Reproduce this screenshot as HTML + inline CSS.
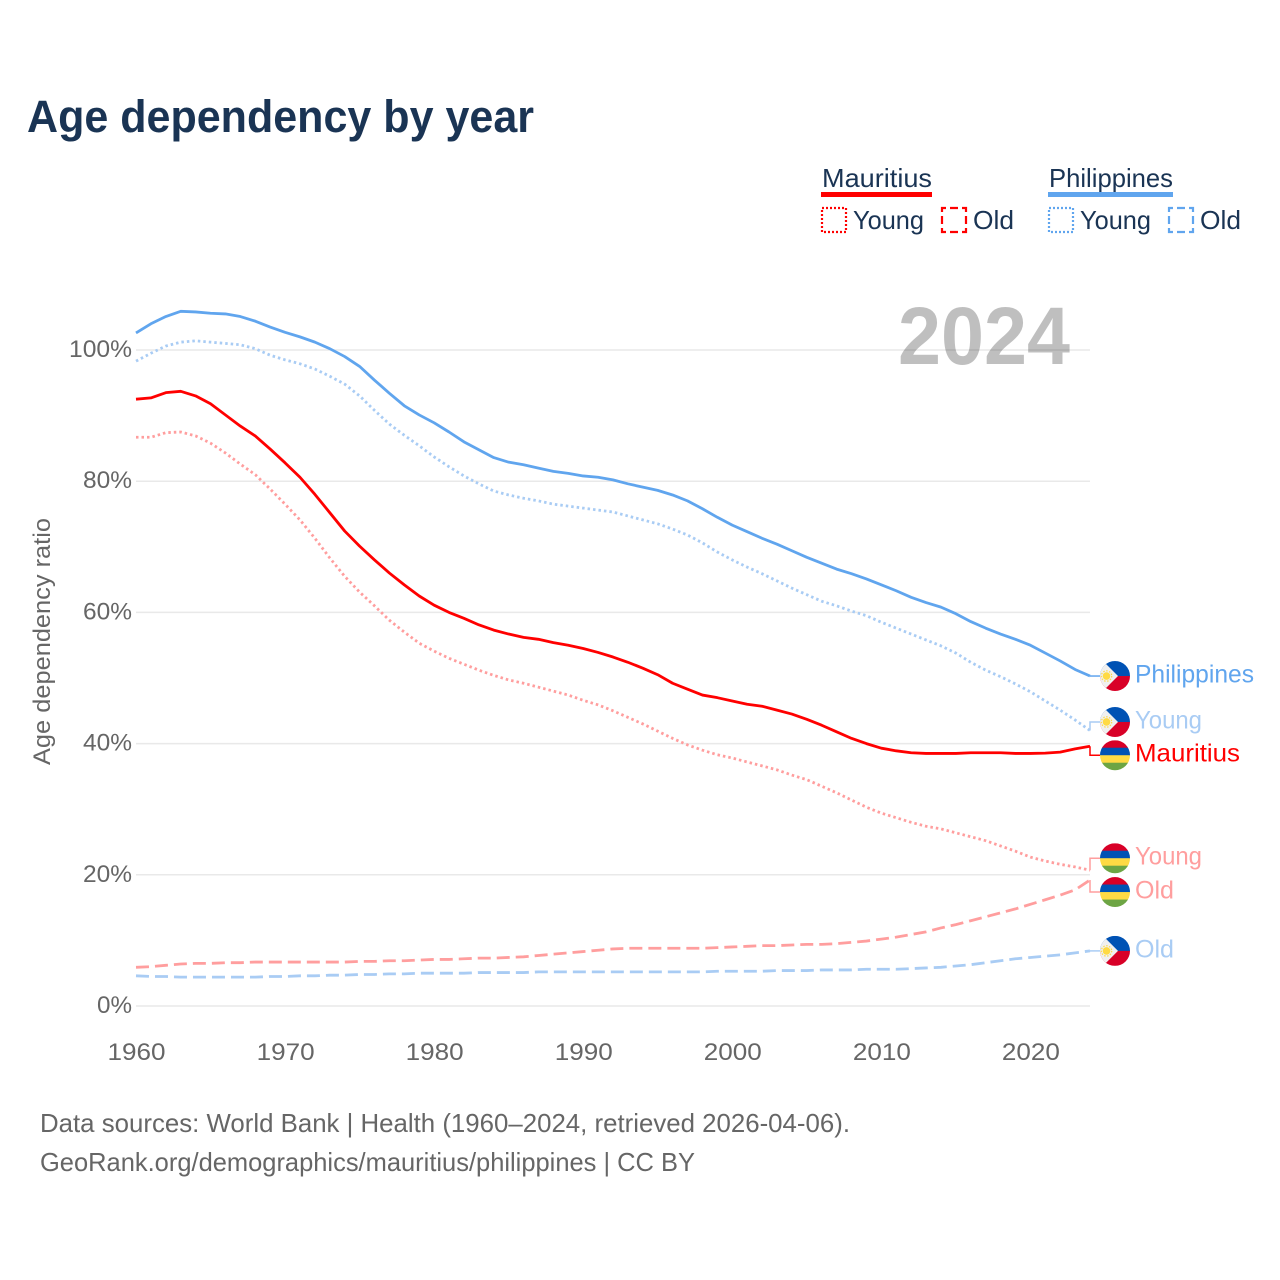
<!DOCTYPE html>
<html lang="en">
<head>
<meta charset="utf-8">
<title>Age dependency by year</title>
<style>
html,body{margin:0;padding:0;background:#fff;width:1280px;height:1280px;overflow:hidden}
svg{display:block}
text{font-family:"Liberation Sans",sans-serif}
</style>
</head>
<body>
<svg id="chart" xmlns="http://www.w3.org/2000/svg" width="1280" height="1280" viewBox="0 0 1280 1280">
<defs>
<clipPath id="flag-clip"><circle cx="0" cy="0" r="15"/></clipPath>
<g id="flag-ph" clip-path="url(#flag-clip)">
<rect x="-15" y="-15" width="30" height="15.300" fill="#0052b4"/>
<rect x="-15" y="0" width="30" height="15" fill="#d80027"/>
<polygon points="-15,-15 -12,-15 3,0 -12,15 -15,15" fill="#f0f0f0"/>
<circle cx="-8.500" cy="0" r="3.800" fill="#ffda44"/>
<circle cx="-8.500" cy="0" r="5.200" fill="none" stroke="#ffda44" stroke-width="1.200" stroke-dasharray="1.500 1.500"/>
</g>
<g id="flag-mu" clip-path="url(#flag-clip)">
<rect x="-15" y="-15" width="30" height="8" fill="#d80027"/>
<rect x="-15" y="-7.500" width="30" height="8" fill="#0052b4"/>
<rect x="-15" y="0" width="30" height="8" fill="#ffda44"/>
<rect x="-15" y="7.500" width="30" height="8" fill="#6da544"/>
</g>
</defs>

<text x="27" y="132" font-size="45" font-weight="700" fill="#1a3454" textLength="507" lengthAdjust="spacingAndGlyphs">Age dependency by year</text>

<g font-size="26" fill="#1a3454">
<text x="822" y="187" textLength="110" lengthAdjust="spacingAndGlyphs">Mauritius</text>
<rect x="821" y="192" width="111" height="5" fill="#ff0000"/>
<rect x="822" y="208" width="24" height="24" fill="none" stroke="#ff0000" stroke-width="2.200" stroke-dasharray="2 2"/>
<text x="853" y="229" textLength="71" lengthAdjust="spacingAndGlyphs">Young</text>
<rect x="942" y="208" width="24" height="24" fill="none" stroke="#ff0000" stroke-width="2.200" stroke-dasharray="8 4" stroke-dashoffset="4"/>
<text x="973" y="229" textLength="41" lengthAdjust="spacingAndGlyphs">Old</text>
<text x="1049" y="187" textLength="124" lengthAdjust="spacingAndGlyphs">Philippines</text>
<rect x="1048" y="192" width="125" height="5" fill="#60a5ee"/>
<rect x="1049" y="208" width="24" height="24" fill="none" stroke="#60a5ee" stroke-width="2.200" stroke-dasharray="2 2"/>
<text x="1080" y="229" textLength="71" lengthAdjust="spacingAndGlyphs">Young</text>
<rect x="1169" y="208" width="24" height="24" fill="none" stroke="#60a5ee" stroke-width="2.200" stroke-dasharray="8 4" stroke-dashoffset="4"/>
<text x="1200" y="229" textLength="41" lengthAdjust="spacingAndGlyphs">Old</text>
</g>

<g id="grid"></g>
<text x="898" y="364" font-size="82" font-weight="700" fill="#000" fill-opacity="0.25" textLength="172" lengthAdjust="spacingAndGlyphs">2024</text>
<g id="y-ticks"></g>
<g id="x-ticks"></g>
<text transform="translate(50,765) rotate(-90)" font-size="24" fill="#666" textLength="247" lengthAdjust="spacingAndGlyphs">Age dependency ratio</text>
<g id="series"></g>
<g id="end-labels"></g>

<g font-size="26" fill="#666">
<text x="40" y="1132" textLength="810" lengthAdjust="spacingAndGlyphs">Data sources: World Bank | Health (1960–2024, retrieved 2026-04-06).</text>
<text x="40" y="1171" textLength="655" lengthAdjust="spacingAndGlyphs">GeoRank.org/demographics/mauritius/philippines | CC BY</text>
</g>
</svg>
<script>
const years = [
1960,1961,1962,1963,1964,1965,1966,1967,1968,1969,
1970,1971,1972,1973,1974,1975,1976,1977,1978,1979,
1980,1981,1982,1983,1984,1985,1986,1987,1988,1989,
1990,1991,1992,1993,1994,1995,1996,1997,1998,1999,
2000,2001,2002,2003,2004,2005,2006,2007,2008,2009,
2010,2011,2012,2013,2014,2015,2016,2017,2018,2019,
2020,2021,2022,2023,2024];
const philippinesTotal = [
102.6,104,105.1,105.9,105.8,105.6,105.5,105.1,104.4,103.5,
102.7,102,101.2,100.2,99,97.5,95.4,93.4,91.5,90.1,
88.9,87.5,86,84.8,83.6,82.9,82.5,82,81.5,81.2,
80.8,80.6,80.2,79.6,79.1,78.6,77.9,77,75.8,74.5,
73.3,72.3,71.3,70.4,69.4,68.4,67.5,66.6,65.9,65.1,
64.2,63.3,62.3,61.5,60.8,59.8,58.6,57.6,56.7,55.9,
55,53.8,52.6,51.3,50.3];
const philippinesYoung = [
98.3,99.5,100.6,101.2,101.4,101.2,101,100.8,100.2,99.2,
98.5,97.9,97.1,96,94.8,93,90.8,88.7,87,85.4,
83.7,82.2,80.8,79.6,78.5,77.9,77.4,77,76.5,76.2,
75.9,75.6,75.3,74.7,74.1,73.5,72.7,71.8,70.6,69.2,
68,66.9,65.9,64.8,63.7,62.7,61.7,61,60.2,59.5,
58.5,57.6,56.7,55.8,54.9,53.8,52.4,51.2,50.2,49.1,
47.9,46.5,45.1,43.6,42];
const philippinesOld = [
4.6,4.5,4.5,4.4,4.4,4.4,4.4,4.4,4.4,4.5,
4.5,4.6,4.6,4.7,4.7,4.8,4.8,4.9,4.9,5.0,
5.0,5.0,5.0,5.1,5.1,5.1,5.1,5.2,5.2,5.2,
5.2,5.2,5.2,5.2,5.2,5.2,5.2,5.2,5.2,5.3,
5.3,5.3,5.3,5.4,5.4,5.4,5.5,5.5,5.5,5.6,
5.6,5.6,5.7,5.8,5.9,6.1,6.3,6.6,6.9,7.2,
7.4,7.6,7.8,8.1,8.4];
const mauritiusTotal = [
92.5,92.7,93.5,93.7,93,91.8,90.1,88.4,86.9,84.9,
82.8,80.6,78,75.2,72.4,70.1,68,66,64.2,62.5,
61.1,60,59.1,58.1,57.3,56.7,56.2,55.9,55.4,55,
54.5,53.9,53.2,52.4,51.5,50.5,49.2,48.3,47.4,47,
46.5,46,45.7,45.1,44.5,43.7,42.8,41.8,40.8,40,
39.3,38.9,38.6,38.5,38.5,38.5,38.6,38.6,38.6,38.5,
38.5,38.55,38.7,39.2,39.6];
const mauritiusYoung = [
86.7,86.7,87.4,87.5,86.9,85.8,84.3,82.6,81,78.8,
76.5,74.1,71.3,68.3,65.5,63.1,61,58.8,57,55.3,
54.1,53,52.1,51.2,50.4,49.7,49.2,48.6,48,47.4,
46.6,45.9,45,44,43,41.9,40.8,39.8,39,38.3,
37.8,37.2,36.6,36,35.2,34.5,33.5,32.5,31.4,30.3,
29.4,28.7,28,27.4,27,26.4,25.8,25.2,24.4,23.6,
22.7,22.1,21.6,21.2,20.7];
const mauritiusOld = [
5.9,6.0,6.2,6.4,6.5,6.5,6.6,6.6,6.7,6.7,
6.7,6.7,6.7,6.7,6.7,6.8,6.8,6.9,6.9,7.0,
7.1,7.1,7.2,7.3,7.3,7.4,7.5,7.7,7.9,8.1,
8.3,8.5,8.7,8.8,8.8,8.8,8.8,8.8,8.8,8.9,
9.0,9.1,9.2,9.2,9.3,9.4,9.4,9.5,9.7,9.9,
10.2,10.5,10.9,11.3,11.9,12.4,13.0,13.6,14.2,14.8,
15.5,16.2,16.9,17.7,19.2];
const yTickValues = [0,20,40,60,80,100];
const yTickLabels = ["0%","20%","40%","60%","80%","100%"];
const xTickValues = [1960,1970,1980,1990,2000,2010,2020];
const xTickLabels = ["1960","1970","1980","1990","2000","2010","2020"];

const SVGNS = "http://www.w3.org/2000/svg";
const xScale = v => 136 + (v - 1960) * (1090 - 136) / (2024 - 1960);
const yScale = v => 1006 - v * 6.56;

function make(tag, attrs, parent) {
  const el = document.createElementNS(SVGNS, tag);
  for (const k in attrs) el.setAttribute(k, attrs[k]);
  parent.appendChild(el);
  return el;
}

const gridGroup = document.getElementById("grid");
const yTickGroup = document.getElementById("y-ticks");
yTickValues.forEach((v, i) => {
  const line = make("line", {x1: 136, x2: 1090, y1: yScale(v), y2: yScale(v), stroke: "#e9e9e9", "stroke-width": 1.5}, gridGroup);
  
  
  const t = make("text", {x: 132, y: yScale(v) + 7, "text-anchor": "end", "font-size": 24, fill: "#666", textLength: yTickLabels[i].length * 14 + 7, lengthAdjust: "spacingAndGlyphs"}, yTickGroup);
  
  
  t.textContent = yTickLabels[i];
});

const xTickGroup = document.getElementById("x-ticks");
xTickValues.forEach((v, i) => {
  const t = make("text", {x: xScale(v) + 0.5, y: 1060, "text-anchor": "middle", "font-size": 24, fill: "#666", textLength: 58, lengthAdjust: "spacingAndGlyphs"}, xTickGroup);
  
  
  t.textContent = xTickLabels[i];
});

const seriesList = [
  {id: "mauritius-old", values: mauritiusOld, color: "#ff9e9e", dash: "13 6", flag: "flag-mu", label: "Old", width: 39, offset: 12},
  {id: "philippines-old", values: philippinesOld, color: "#a9ccf4", dash: "13 6", flag: "flag-ph", label: "Old", width: 39, offset: 0},
  {id: "mauritius-young", values: mauritiusYoung, color: "#ff9e9e", dash: "2.5 3", flag: "flag-mu", label: "Young", width: 67, offset: -12},
  {id: "philippines-young", values: philippinesYoung, color: "#a9ccf4", dash: "2.5 3", flag: "flag-ph", label: "Young", width: 67, offset: -8.5},
  {id: "mauritius-total", values: mauritiusTotal, color: "#ff0000", dash: "", flag: "flag-mu", label: "Mauritius", width: 105, offset: 9},
  {id: "philippines-total", values: philippinesTotal, color: "#60a5ee", dash: "", flag: "flag-ph", label: "Philippines", width: 119, offset: 0}
];

const seriesGroup = document.getElementById("series");
const labelGroup = document.getElementById("end-labels");
seriesList.forEach(s => {
  const d = s.values.map((v, i) => (i ? "L" : "M") + xScale(years[i]).toFixed(2) + " " + yScale(v).toFixed(2)).join("");
  const attrs = {d: d, fill: "none", stroke: s.color, "stroke-width": 2.8, "stroke-linejoin": "round"};
  if (s.dash) attrs["stroke-dasharray"] = s.dash;
  const path = make("path", attrs, seriesGroup);
  
  

  const endY = yScale(s.values[s.values.length - 1]);
  const labelY = endY + s.offset;
  const conn = make("path", {d: "M1090 " + endY + "V" + labelY + "H1100", fill: "none", stroke: s.color, "stroke-width": 1.5}, seriesGroup);
  
  

  const flag = make("use", {href: "#" + s.flag, x: 1115, y: labelY}, labelGroup);
  
  

  const text = make("text", {x: 1135, y: labelY + 6.5, "font-size": 25, fill: s.color, textLength: s.width, lengthAdjust: "spacingAndGlyphs"}, labelGroup);
  
  
  text.textContent = s.label;
});
</script>
</body>
</html>
